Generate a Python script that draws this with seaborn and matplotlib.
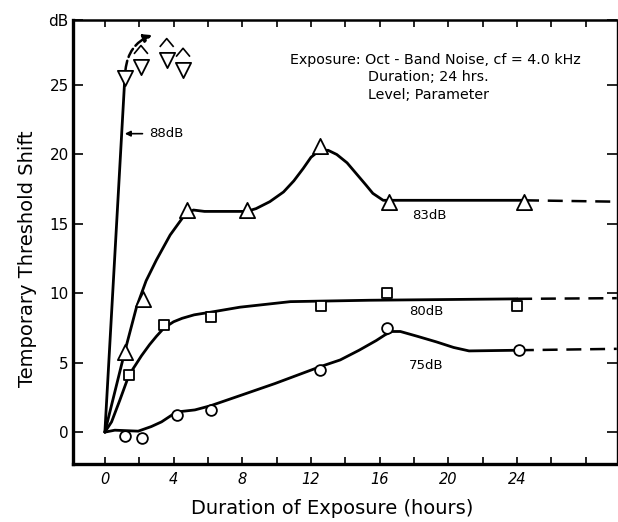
import matplotlib
matplotlib.use('Agg')
import matplotlib.pyplot as plt
from matplotlib.path import Path
import seaborn as sns

# measured points (hours, dB)
hrs_88 = [1.16]
tts_88 = [25.5]
hrs_88_over = [2.1, 3.6, 4.55]
tts_88_over = [26.3, 26.8, 26.1]

hrs_83 = [1.16, 2.2, 4.8, 8.25, 12.5, 16.55, 24.4]
tts_83 = [5.8, 9.6, 16.0, 16.0, 20.6, 16.6, 16.6]

hrs_80 = [1.4, 3.44, 6.2, 12.56, 16.4, 24.0]
tts_80 = [4.1, 7.7, 8.3, 9.1, 10.0, 9.1]

hrs_75 = [1.16, 2.17, 4.17, 6.15, 12.5, 16.4, 24.1]
tts_75 = [-0.3, -0.45, 1.2, 1.6, 4.5, 7.5, 5.9]

# hand drawn curves
curve_88_x = [0, 1.16]
curve_88_y = [0, 25.5]
curve_83_x = [0, 1.16, 1.84, 2.4, 3.0, 3.8, 4.56, 5.15, 5.8, 8.25, 8.8, 9.6, 10.4, 11.0, 11.55, 12.0, 12.5, 13.0, 13.5, 14.1, 14.65, 15.2, 15.6, 16.2, 24.4]
curve_83_y = [0, 5.8, 9.0, 10.9, 12.4, 14.2, 15.5, 16.0, 15.9, 15.9, 16.1, 16.6, 17.3, 18.1, 19.0, 19.8, 20.3, 20.3, 20.0, 19.4, 18.6, 17.8, 17.2, 16.7, 16.7]
curve_80_x = [0, 0.39, 0.87, 1.4, 2.13, 2.6, 3.0, 3.44, 4.0, 4.5, 5.2, 6.2, 7.86, 10.8, 15.4, 24.0]
curve_80_y = [0, 0.74, 2.3, 4.1, 5.5, 6.3, 6.9, 7.5, 7.95, 8.2, 8.45, 8.65, 9.0, 9.4, 9.5, 9.6]
curve_75_x = [0, 0.58, 1.94, 2.7, 3.3, 3.8, 4.17, 5.24, 6.15, 7.96, 9.9, 12.5, 13.7, 14.8, 15.8, 16.3, 16.7, 17.2, 18.2, 19.3, 20.3, 21.2, 24.1]
curve_75_y = [0, 0.14, 0.07, 0.4, 0.74, 1.15, 1.45, 1.6, 1.9, 2.67, 3.5, 4.7, 5.2, 5.9, 6.6, 7.0, 7.25, 7.25, 6.9, 6.5, 6.1, 5.85, 5.9]

# extrapolated (dashed) level beyond 24 h
tail_y = {'83': [16.7, 16.6], '80': [9.6, 9.65], '75': [5.9, 6.0]}
tail_start = {'83': 24.4, '80': 24.0, '75': 24.1}

x_ticks = [0, 4, 8, 12, 16, 20, 24]
y_ticks = [0, 5, 10, 15, 20, 25]
x_lim = (-1.86, 29.8)
y_lim = (-2.3, 29.7)

sns.set_style('ticks')
plt.rcParams['font.family'] = ['DejaVu Sans']
plt.rcParams.update({'text.color': 'k', 'axes.labelcolor': 'k',
                     'xtick.color': 'k', 'ytick.color': 'k'})

fig = plt.figure(figsize=(6.18, 5.22), dpi=100)
ax = fig.add_axes([0.118, 0.111, 0.880, 0.851])

for cx, cy in [(curve_88_x, curve_88_y), (curve_83_x, curve_83_y),
               (curve_80_x, curve_80_y), (curve_75_x, curve_75_y)]:
    sns.lineplot(x=cx, y=cy, sort=False, estimator=None, color='k', lw=2, ax=ax)

for k in ['83', '80', '75']:
    ax.plot([tail_start[k], x_lim[1]], tail_y[k], color='k', lw=1.8, ls=(0, (6, 3.5)))

mk = dict(color='white', edgecolor='k', linewidth=1.3, zorder=4, ax=ax, legend=False)
sns.scatterplot(x=hrs_88, y=tts_88, marker='v', s=120, **mk)
sns.scatterplot(x=hrs_88_over, y=tts_88_over, marker='v', s=120, **mk)
sns.scatterplot(x=hrs_83, y=tts_83, marker='^', s=120, **mk)
sns.scatterplot(x=hrs_80, y=tts_80, marker='s', s=55, **mk)
sns.scatterplot(x=hrs_75, y=tts_75, marker='o', s=60, **mk)

# open carets above the off-scale points
caret = Path([(-1, -0.6), (0, 0.6), (1, -0.6)], [Path.MOVETO, Path.LINETO, Path.LINETO])
ax.scatter(hrs_88_over, [y + 1.25 for y in tts_88_over], marker=caret,
           s=100, facecolors='none', edgecolors='k', linewidths=1.2, zorder=4)

# dashed curved arrow: beyond scale
ax.annotate('', xy=(2.75, 28.6), xytext=(1.2, 26.1),
            arrowprops=dict(arrowstyle='-|>', color='k', lw=1.8, ls='--',
                            connectionstyle='arc3,rad=-0.3', mutation_scale=12,
                            shrinkA=0, shrinkB=0))

ax.annotate('', xy=(1.0, 21.5), xytext=(2.35, 21.5),
            arrowprops=dict(arrowstyle='-|>', color='k', lw=1.2, mutation_scale=8))
ax.text(2.6, 21.5, '88dB', fontsize=9.5, va='center', ha='left')
ax.text(18.9, 15.6, '83dB', fontsize=9.5, va='center', ha='center')
ax.text(18.7, 8.7, '80dB', fontsize=9.5, va='center', ha='center')
ax.text(18.7, 4.8, '75dB', fontsize=9.5, va='center', ha='center')

ax.text(10.8, 26.8, 'Exposure: Oct - Band Noise, cf = 4.0 kHz', fontsize=10.3, va='center', ha='left')
ax.text(15.3, 25.6, 'Duration; 24 hrs.', fontsize=10.3, va='center', ha='left')
ax.text(15.3, 24.3, 'Level; Parameter', fontsize=10.3, va='center', ha='left')

ax.set_xlim(*x_lim)
ax.set_ylim(*y_lim)
ax.set_xticks(x_ticks)
ax.set_xticklabels([str(t) for t in x_ticks], fontsize=10.5, style='italic')
ax.set_xticks(range(0, 30, 2), minor=True)
ax.set_yticks(y_ticks + [y_lim[1]])
ax.set_yticklabels([str(t) for t in y_ticks] + ['dB'], fontsize=11)
ax.tick_params(which='both', direction='in', top=True, right=True, color='k')
ax.tick_params(axis='x', which='major', length=5, width=1.2, pad=6)
ax.tick_params(axis='x', which='minor', length=5, width=1.2)
ax.tick_params(axis='y', length=7, width=1.2, pad=3)

for side, w in [('left', 2.4), ('bottom', 2.4), ('top', 1.8), ('right', 1.0)]:
    ax.spines[side].set_linewidth(w)
    ax.spines[side].set_color('k')

ax.set_xlabel('Duration of Exposure (hours)', fontsize=14, x=0.476, labelpad=8)
ax.set_ylabel('Temporary Threshold Shift', fontsize=14, y=0.462, labelpad=8)

fig.savefig('out.png', dpi=100)
